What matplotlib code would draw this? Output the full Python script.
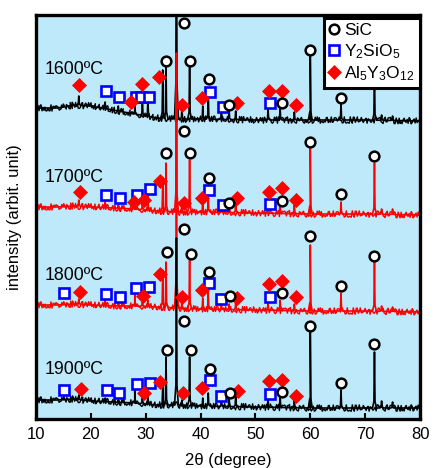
import numpy as np
import matplotlib
matplotlib.use("Agg")
import matplotlib.pyplot as plt
from matplotlib.lines import Line2D

plt.rcParams['font.family'] = ['Liberation Sans', 'DejaVu Sans']
plt.rcParams['mathtext.fontset'] = 'custom'
plt.rcParams['mathtext.rm'] = 'Liberation Sans'
plt.rcParams['mathtext.it'] = 'Liberation Sans:italic'

# ---------------- data (2theta in degree, intensity in arbitrary offset units) ----
temperatures = ['1600ºC', '1700ºC', '1800ºC', '1900ºC']
trace_colors = ['black', 'red', 'red', 'black']

base_theta = [10, 14, 17, 20, 24, 28, 32, 36, 40, 50, 60, 70, 80]
base_1600 = [311, 311, 314, 313, 309, 305, 301, 300, 300, 299, 299, 299, 298]
base_1700 = [212, 212, 213, 212, 211, 210, 208, 207, 207, 206, 205, 205, 204]
base_1800 = [114, 114, 115, 114, 113, 113, 112, 111, 110, 109, 108, 108, 107]
base_1900 = [19, 19, 20, 18, 17, 16, 14, 14, 13, 12, 11, 11, 11]

peak_theta = [17.8, 22.6, 25.0, 28.0, 29.4, 30.4, 33.1, 33.7, 35.6, 36.6, 38.0, 40.4,
              41.4, 43.8, 45.2, 46.4, 52.3, 54.5, 57.1, 60.0, 65.6, 71.7, 73.0, 75.0]
peak_1600 = [323, 317, 313, 319, 318, 319, 349, 355, 600, 311, 356, 313,
             328, 309, 309, 308, 311, 312, 307, 364, 315, 349, 304, 303]
peak_1700 = [219, 217, 214, 219, 218, 223, 237, 256, 366, 215, 259, 219,
             224, 212, 214, 217, 214, 217, 214, 271, 217, 256, 210, 210]
peak_1800 = [120, 119, 117, 126, 121, 119, 149, 157, 319, 117, 159, 121,
             127, 114, 115, 116, 117, 119, 115, 174, 126, 157, 113, 112]
peak_1900 = [24, 21, 19, 31, 23, 24, 33, 62, 181, 19, 62, 21,
             26, 20, 21, 23, 21, 24, 19, 89, 29, 67, 18, 17]

# phase markers: SiC (circles)
sic_1600_x = [33.7, 36.95, 38.0, 41.6, 45.2, 54.8, 60.0, 65.6]
sic_1600_y = [358, 396, 358, 340, 314, 316, 369, 321]
sic_1700_x = [33.7, 36.95, 38.0, 41.6, 45.2, 54.8, 60.0, 65.55, 71.6]
sic_1700_y = [266, 288, 266, 241, 216, 218, 277, 225, 263]
sic_1800_x = [33.8, 36.95, 38.2, 41.6, 45.35, 54.8, 60.0, 65.6, 71.7]
sic_1800_y = [167, 190, 165, 147, 123, 126, 183, 133, 163]
sic_1900_x = [33.8, 37.0, 38.2, 41.7, 45.35, 54.8, 60.0, 65.6, 71.7]
sic_1900_y = [69, 98, 69, 50, 26, 27, 93, 36, 75]

# Y2SiO5 (squares)
yso_1600_x = [22.7, 25.1, 28.2, 29.05, 30.6, 41.7, 44.0, 52.6]
yso_1600_y = [328, 322, 322, 322, 322, 327, 312, 316]
yso_1700_x = [22.7, 25.3, 28.4, 30.75, 41.6, 44.0, 52.6]
yso_1700_y = [224, 221, 224, 230, 229, 214, 215]
yso_1800_x = [15.05, 22.7, 25.3, 28.3, 30.6, 41.6, 43.8, 52.6]
yso_1800_y = [126, 125, 122, 131, 132, 136, 120, 122]
yso_1900_x = [15.05, 22.9, 25.15, 28.4, 30.75, 41.7, 43.8, 52.65]
yso_1900_y = [29, 29, 26, 35, 36, 39, 23, 25]

# Al5Y3O12 (diamonds)
yag_1600_x = [17.8, 27.4, 29.4, 32.4, 36.6, 40.3, 46.6, 52.5, 54.8, 57.4]
yag_1600_y = [334, 317, 335, 342, 314, 321, 316, 328, 328, 314]
yag_1700_x = [17.97, 27.8, 29.65, 32.6, 36.95, 40.3, 46.7, 52.5, 54.8, 57.4]
yag_1700_y = [227, 217, 219, 238, 216, 221, 221, 227, 231, 219]
yag_1800_x = [17.97, 29.5, 32.6, 36.7, 40.3, 46.6, 52.5, 54.8, 57.4]
yag_1800_y = [127, 123, 145, 122, 129, 121, 135, 138, 122]
yag_1900_x = [18.2, 29.65, 32.6, 36.8, 40.35, 46.9, 52.5, 54.8, 57.4]
yag_1900_y = [30, 26, 37, 26, 31, 28, 38, 39, 23]

label_x = 11.5
label_y = [349, 241, 144, 49]

xticks = [10, 20, 30, 40, 50, 60, 70, 80]
legend_labels = ['SiC', 'Y$_2$SiO$_5$', 'Al$_5$Y$_3$O$_{12}$']

# ---------------- figure -------------------------------------------------------
W, H = 434, 468
fig = plt.figure(figsize=(W / 100, H / 100), dpi=100)
ax = fig.add_axes([36 / W, 1 - 419 / H, (420 - 36) / W, (419 - 15) / H])
ax.set_facecolor('#bde9fa')


def build_trace(base_y, peak_y):
    bt = np.asarray(base_theta, float)
    by = np.asarray(base_y, float)
    xs = list(bt)
    ys = list(by)
    for p, top in zip(peak_theta, peak_y):
        b = np.interp(p, bt, by)
        h = top - b
        for dx, frac in [(-0.35, 0.0), (-0.1, 0.12), (0.0, 1.0), (0.1, 0.12), (0.35, 0.0)]:
            xs.append(p + dx)
            ys.append(np.interp(p + dx, bt, by) + frac * h)
    order = np.argsort(xs, kind='stable')
    return np.asarray(xs)[order], np.asarray(ys)[order]


bases = [base_1600, base_1700, base_1800, base_1900]
peaks = [peak_1600, peak_1700, peak_1800, peak_1900]
for i, (b, p) in enumerate(zip(bases, peaks)):
    x, y = build_trace(b, p)
    ax.plot(x, y, color=trace_colors[i], lw=1.2, zorder=2 + i * 0.1)
    # noisy texture of the background (drawn as a line style on the baseline only)
    nl, = ax.plot(base_theta, b, color=trace_colors[i], lw=1.0, zorder=2 + i * 0.1)
    nl.set_sketch_params(scale=3.2, length=1.2, randomness=3.0)

sic = [(sic_1600_x, sic_1600_y), (sic_1700_x, sic_1700_y), (sic_1800_x, sic_1800_y), (sic_1900_x, sic_1900_y)]
yso = [(yso_1600_x, yso_1600_y), (yso_1700_x, yso_1700_y), (yso_1800_x, yso_1800_y), (yso_1900_x, yso_1900_y)]
yag = [(yag_1600_x, yag_1600_y), (yag_1700_x, yag_1700_y), (yag_1800_x, yag_1800_y), (yag_1900_x, yag_1900_y)]

circ_kw = dict(ls='none', marker='o', ms=7.0, mfc='white', mec='black', mew=1.8, zorder=5)
sq_kw = dict(ls='none', marker='s', ms=7.2, mfc='white', mec='#0000ff', mew=1.9, zorder=5)
dia_kw = dict(ls='none', marker='D', ms=7.0, mfc='red', mec='red', mew=0.5, zorder=5)

for (sx, sy), (qx, qy), (dx, dy) in zip(sic, yso, yag):
    ax.plot(qx, qy, **sq_kw)
    ax.plot(dx, dy, **dia_kw)
    ax.plot(sx, sy, **circ_kw)

for t, ly in zip(temperatures, label_y):
    ax.text(label_x, ly, t, fontsize=12.8, ha='left', va='center', zorder=6)

ax.set_xlim(10, 80)
ax.set_ylim(0, 404)
ax.set_xticks(xticks)
ax.set_yticks([])
ax.tick_params(axis='x', direction='in', length=4, width=1.5, labelsize=12, pad=6)
for s in ax.spines.values():
    s.set_linewidth(2.4)
ax.set_xlabel('2θ (degree)', fontsize=12, labelpad=8)
ax.set_ylabel('intensity (arbit. unit)', fontsize=12, labelpad=10)

handles = [Line2D([], [], **circ_kw), Line2D([], [], **sq_kw), Line2D([], [], **dia_kw)]
leg = ax.legend(handles, legend_labels, loc='upper right', fontsize=12.5,
                bbox_to_anchor=(1.0, 1.0 - 3 / 404),
                frameon=True, fancybox=False, framealpha=1, edgecolor='black',
                handlelength=0.6, handletextpad=0.3, borderpad=0.3,
                labelspacing=0.2, borderaxespad=0.0)
leg.get_frame().set_linewidth(2.2)
leg.set_zorder(10)

fig.savefig('out.png', dpi=100)
